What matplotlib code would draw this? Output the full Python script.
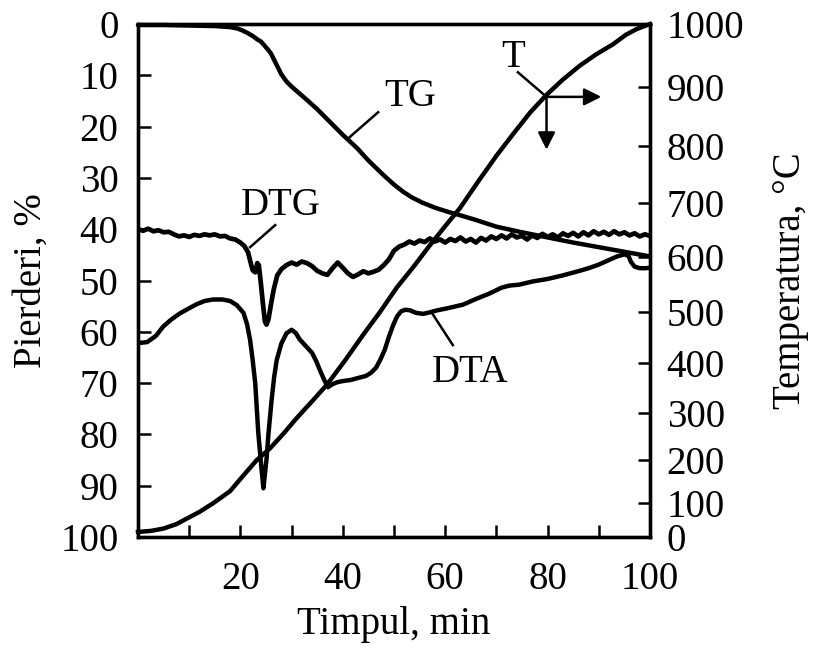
import numpy as np
import matplotlib
matplotlib.use("Agg")
import matplotlib.pyplot as plt
from matplotlib.ticker import FixedLocator, NullFormatter

plt.rcParams["font.family"] = ["Liberation Serif", "DejaVu Serif"]
plt.rcParams["font.size"] = 28

# ---- thermogravimetric curve (mass loss, %) ----
tg_time = [0, 5, 10, 15, 18, 19.5, 20.5, 21.5, 22.5, 23.3, 24.0, 24.7, 25.4, 26.0,
           26.6, 27.2, 28.0, 29.0, 30.0, 31.5, 33.0, 35.0, 37.5, 40.0, 42.8, 45.0,
           47.9, 50.0, 51.8, 53.5, 55.5, 58.0, 60.5, 63.0, 66.0, 70.0, 75.0, 80.0,
           85.0, 90.0, 95.0, 100.0]
tg_loss = [0.2, 0.2, 0.3, 0.4, 0.6, 0.9, 1.3, 1.8, 2.4, 3.0, 3.4, 4.2, 5.0, 5.8,
           7.0, 8.2, 9.8, 11.2, 12.2, 13.5, 14.8, 16.6, 19.1, 21.6, 24.2, 26.6,
           29.4, 31.3, 32.7, 33.8, 34.8, 35.8, 36.6, 37.3, 38.2, 39.5, 40.6, 41.6,
           42.6, 43.5, 44.4, 45.3]

# ---- derivative curve DTG (plotted in the mass-loss frame) ----
dtg_time = [0, 1, 2, 3, 4, 5, 6, 7, 8, 9, 10, 11, 12, 13, 14, 15, 16, 17, 18, 19,
            20, 20.8, 21.5, 22.0, 22.4, 22.9, 23.3, 23.6, 24.0, 24.4, 24.8, 25.1,
            25.5, 26.0, 26.5, 27.2, 28.0, 29.0, 30.0, 31.0, 32.0, 33.0, 34.0, 35.0,
            36.0, 37.0, 38.0, 39.0, 40.0, 41.0, 42.0, 43.0, 44.0, 45.0, 46.0, 47.0,
            48.0, 49.0, 50.0, 51.0, 52.0, 53.0, 54.0, 55, 56, 57, 58, 59, 60, 61,
            62, 63, 64, 65, 66, 67, 68, 69, 70, 71, 72, 73, 74, 75, 76, 77, 78, 79,
            80, 81, 82, 83, 84, 85, 86, 87, 88, 89, 90, 91, 92, 93, 94, 95, 96, 97,
            98, 99, 100]
dtg_signal = [40.0, 40.3, 39.9, 40.4, 40.2, 40.6, 40.5, 41.0, 41.4, 41.2, 41.5, 41.1,
              41.3, 41.0, 41.2, 41.0, 41.4, 41.3, 41.8, 42.0, 42.6, 43.3, 44.5, 46.5,
              48.0, 48.4, 46.6, 47.0, 50.5, 54.5, 58.0, 58.6, 57.5, 54.5, 51.8, 49.0,
              47.8, 47.0, 46.5, 46.9, 46.3, 46.6, 47.2, 48.1, 48.6, 48.9, 47.6, 46.5,
              47.5, 48.6, 49.3, 48.8, 48.2, 48.6, 48.3, 47.9, 47.0, 45.9, 44.2, 43.4,
              43.0, 42.4, 42.8, 42.2, 42.5, 41.8, 42.4, 42.0, 42.6, 41.9, 42.3, 41.6,
              42.4, 41.9, 42.6, 41.7, 42.2, 41.4, 41.9, 41.2, 41.8, 41.0, 41.6, 41.3,
              42.0, 41.2, 41.7, 40.9, 41.5, 41.0, 41.6, 40.8, 41.3, 40.7, 41.4, 40.6,
              41.2, 40.4, 41.0, 40.5, 41.1, 40.4, 41.0, 40.6, 41.2, 40.8, 41.4, 41.0,
              41.3]

# ---- differential thermal analysis curve DTA ----
dta_time = [0, 1.8, 3.5, 4.9, 6.5, 8.2, 10, 11.5, 13, 14.6, 16.5, 18, 19.3, 20.6,
            21.3, 21.9, 22.4, 22.9, 23.5, 24.2, 24.5, 25.1, 25.5, 26.1, 26.6, 27.1,
            28.0, 29.0, 30.0, 30.8, 31.6, 32.8, 34.0, 34.8, 35.5, 36.3, 37.1, 38.0,
            39.0, 40.0, 41.5, 43.0, 44.5, 45.5, 46.5, 47.3, 48.2, 49.0, 49.8, 50.6,
            51.4, 52.2, 53.1, 54.3, 55.7, 57, 58.5, 60.5, 63.5, 66, 68.5, 71, 72.5,
            74.5, 77, 80, 83, 86.3, 88, 90, 92, 93.6, 95, 95.8, 96.3, 97, 98, 99.2,
            100]
dta_signal = [62.2, 62.0, 60.8, 59.0, 57.6, 56.4, 55.4, 54.6, 54.0, 53.7, 53.7, 54.0,
              54.8, 56.3, 58.5, 61.6, 65.5, 70.0, 79.7, 87.5, 90.5, 84.9, 79.7, 73.3,
              68.8, 65.5, 62.3, 60.3, 59.6, 60.2, 61.5, 62.8, 64.1, 65.7, 67.4, 69.2,
              70.8, 70.2, 69.8, 69.6, 69.4, 69.0, 68.6, 68.0, 67.0, 65.5, 63.5, 61.0,
              58.8, 57.0, 56.0, 55.7, 55.8, 56.3, 56.5, 56.2, 55.8, 55.4, 54.7, 53.6,
              52.6, 51.4, 51.0, 50.8, 50.2, 49.7, 49.0, 48.1, 47.6, 46.9, 46.0, 45.3,
              44.9, 45.2, 46.4, 47.3, 47.6, 47.6, 47.5]

# ---- furnace temperature T, degC ----
t_time = [0, 2.5, 5, 7.5, 9.6, 12, 14.7, 18, 20.5, 23.2, 25.8, 28.5, 31, 34, 36.9,
          40.5, 44, 47.3, 50.5, 54, 57, 60, 62.9, 66.5, 70.1, 73.5, 76.6, 79.8, 83,
          86.3, 89.5, 92.8, 95.3, 97.4, 100]
t_temp = [15, 18, 25, 38, 55, 74, 100, 128, 163, 200, 225, 257, 289, 323, 356, 405,
          455, 500, 544, 585, 622, 657, 690, 738, 784, 823, 857, 887, 912, 934, 952,
          968, 983, 992, 1000]

# axis ticks
loss_ticks = list(range(0, 101, 10))
time_major = [20, 40, 60, 80, 100]
time_minor = [10, 30, 50, 70, 90]
temp_ticks = list(range(0, 1001, 100))
# relative height of each printed temperature tick on the right-hand scale
temp_frac = [0, 0.066, 0.150, 0.242, 0.340, 0.439, 0.545, 0.652, 0.762, 0.877, 1.0]


def temp_forward(v):
    return np.interp(v, temp_ticks, temp_frac)


def temp_inverse(v):
    return np.interp(v, temp_frac, temp_ticks)


fig = plt.figure(figsize=(8.15, 6.51), dpi=100)
ax = fig.add_axes([0.1693, 0.1751, 0.6282, 0.7880])
ax2 = ax.twinx()

LW = 3.2
ax.plot(tg_time, tg_loss, color="black", lw=LW, solid_capstyle="round",
        solid_joinstyle="round", clip_on=False, zorder=3)
ax.plot(dtg_time, dtg_signal, color="black", lw=3.4, solid_joinstyle="round",
        zorder=3)
ax.plot(dta_time, dta_signal, color="black", lw=LW, solid_joinstyle="round",
        zorder=3)

ax2.set_yscale("function", functions=(temp_forward, temp_inverse))
ax2.plot(t_time, t_temp, color="black", lw=LW, solid_joinstyle="round",
         clip_on=False, zorder=3)
ax2.set_ylim(0, 1000)

ax.set_xlim(0, 100)
ax.set_ylim(100, 0)

ax.set_yticks(loss_ticks)
ax.set_xticks(time_major)
ax.xaxis.set_minor_locator(FixedLocator(time_minor))
ax.xaxis.set_minor_formatter(NullFormatter())
ax2.set_yticks(temp_ticks)
ax2.yaxis.set_minor_locator(FixedLocator([]))

ax.tick_params(axis="y", direction="in", length=9, width=1.8, pad=14,
               left=True, right=False)
ax.tick_params(axis="x", which="both", direction="in", length=9, width=1.8,
               pad=17, top=False)
ax2.tick_params(axis="y", direction="in", length=9, width=1.8, pad=12)

for a in (ax, ax2):
    for s in a.spines.values():
        s.set_linewidth(2.4)

ax.set_xlabel("Timpul, min", labelpad=6)
ax.set_ylabel("Pierderi, %", labelpad=8)
ax2.set_ylabel("Temperatura, \u00b0C", labelpad=20)

# curve labels with leader lines
lead = dict(color="black", lw=1.8)
ax.plot([46.9, 41.4], [17.2, 22.0], **lead)
ax.text(53.1, 14.2, "TG", ha="center", va="center")
ax.plot([26.8, 21.9], [39.2, 43.5], **lead)
ax.text(27.9, 35.3, "DTG", ha="center", va="center")
ax.plot([61.5, 57.4], [62.6, 56.3], **lead)
ax.text(64.8, 68.0, "DTA", ha="center", va="center")
ax.plot([74.2, 79.8], [9.4, 14.2], **lead)
ax.text(73.2, 6.6, "T", ha="center", va="center")

arrow = dict(arrowstyle="-|>", color="black", lw=1.8, mutation_scale=26,
             shrinkA=0, shrinkB=0)
ax.annotate("", xy=(90.5, 14.2), xytext=(79.8, 14.2), arrowprops=arrow)
ax.annotate("", xy=(79.8, 24.5), xytext=(79.8, 14.2), arrowprops=arrow)

fig.savefig("out.png", dpi=100)
